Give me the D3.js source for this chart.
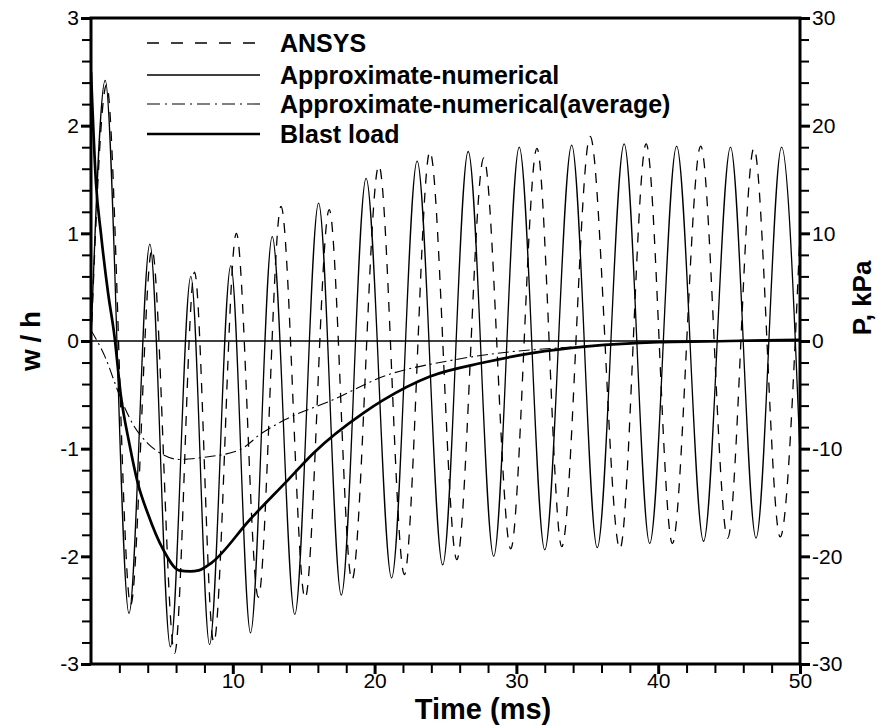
<!DOCTYPE html>
<html><head><meta charset="utf-8">
<script src="https://cdn.jsdelivr.net/npm/d3@7"></script>
<style>body{margin:0;background:#fff} svg{display:block;font-family:"Liberation Sans",Arial,sans-serif}</style>
</head><body><svg id="c" width="882" height="728"></svg>
<script>
// ---- data ----
// Approximate-numerical: times (ms) of successive extrema and w/h values
const numT = [0, 1.0, 2.68, 4.15, 5.6, 7.04, 8.36, 9.86, 11.25, 12.78, 14.37, 16.05, 17.65, 19.4, 21.2, 23.0, 24.8, 26.6, 28.4, 30.2, 32.0, 33.9, 35.7, 37.6, 39.4, 41.3, 43.2, 45.1, 46.9, 48.7, 50];
const numW = [0, 2.42, -2.53, 0.9, -2.84, 0.6, -2.82, 0.7, -2.71, 0.97, -2.54, 1.28, -2.36, 1.51, -2.2, 1.67, -2.08, 1.76, -2.0, 1.80, -1.94, 1.82, -1.92, 1.83, -1.88, 1.81, -1.86, 1.80, -1.83, 1.80, -1.05];
// ANSYS
const ansT = [0, 1.1, 2.8, 4.3, 5.9, 7.3, 8.66, 10.25, 11.8, 13.4, 15.1, 16.8, 18.4, 20.3, 22.1, 23.9, 25.8, 27.7, 29.6, 31.45, 33.2, 35.2, 37.3, 39.15, 41.0, 43.0, 44.9, 46.75, 48.6, 50];
const ansW = [0, 2.38, -2.45, 0.85, -2.9, 0.64, -2.8, 1.0, -2.38, 1.25, -2.39, 1.22, -2.22, 1.63, -2.17, 1.76, -2.03, 1.70, -1.93, 1.79, -1.91, 1.90, -1.93, 1.83, -1.88, 1.81, -1.83, 1.79, -1.82, 1.0];
// Approximate-numerical (average)
const avgT = [0, 1, 2, 2.9, 4, 5, 6.2, 8, 10.5, 12, 13.7, 17, 20.6, 25.4, 29.6, 32.4, 36, 40, 45, 50];
const avgW = [0.1, -0.15, -0.5, -0.76, -0.95, -1.05, -1.1, -1.08, -1.01, -0.86, -0.73, -0.55, -0.33, -0.18, -0.1, -0.07, -0.04, -0.01, 0, 0.01];
// Blast load (kPa)
const blastT = [0, 0.35, 0.7, 1.2, 1.65, 2.1, 2.7, 3.3, 4.0, 5.1, 6.2, 7.0, 7.6, 8.5, 11.2, 13.9, 15.7, 19.2, 20.6, 23.9, 27.7, 31.2, 35, 40, 45, 50];
const blastP = [25, 14.7, 10, 4.5, 0.5, -5, -9.5, -13.2, -16, -19.4, -21.3, -21.4, -21.3, -20.6, -16.6, -12.9, -10.4, -6.7, -5.5, -3.3, -2.0, -1.1, -0.5, -0.1, 0, 0.1];

const xTicks = [10, 20, 30, 40, 50];
const yTicks = [-3, -2, -1, 0, 1, 2, 3];
const yRTicks = [-30, -20, -10, 0, 10, 20, 30];
const legendNames = ["ANSYS", "Approximate-numerical", "Approximate-numerical(average)", "Blast load"];

// ---- drawing ----
const svg = d3.select("#c");
const L = 91, R = 800, T = 18, B = 664;
const x = d3.scaleLinear().domain([0, 50]).range([L, R]);
const y = d3.scaleLinear().domain([-3, 3]).range([B, T]);
const yR = d3.scaleLinear().domain([-30, 30]).range([B, T]);

const xMinor = d3.range(0, 50.001, 2).filter(v => v % 10 !== 0);
const yMinor = d3.range(-30, 30.001, 2).filter(v => v % 10 !== 0).map(v => v / 10);
const yRMinor = d3.range(-30, 30.001, 2).filter(v => v % 10 !== 0);
const fmt = d => String(d);

svg.append("defs").append("clipPath").attr("id", "clip")
  .append("rect").attr("x", L).attr("y", T).attr("width", R - L).attr("height", B - T);

const plot = svg.append("g").attr("clip-path", "url(#clip)");

plot.append("line").attr("x1", L).attr("x2", R).attr("y1", y(0)).attr("y2", y(0))
  .attr("stroke", "#000").attr("stroke-width", 1.3);

const lineW = d3.line().curve(d3.curveMonotoneX).x(d => x(d[0])).y(d => y(d[1]));
const lineP = d3.line().curve(d3.curveMonotoneX).x(d => x(d[0])).y(d => yR(d[1]));

const styles = [
  {w: 1.3, dash: "10,9", legDash: "12,12"},
  {w: 1.3, dash: null},
  {w: 1.1, dash: "11,4,2,4", legDash: "13,5,2,5"},
  {w: 2.7, dash: null}
];

function draw(path, st) {
  const p = plot.append("path").attr("d", path).attr("fill", "none")
    .attr("stroke", "#000").attr("stroke-width", st.w).attr("stroke-linejoin", "round");
  if (st.dash) p.attr("stroke-dasharray", st.dash);
}
draw(lineW(d3.zip(avgT, avgW)), styles[2]);
draw(lineP(d3.zip(blastT, blastP)), styles[3]);
draw(lineW(d3.zip(ansT, ansW)), styles[0]);
draw(lineW(d3.zip(numT, numW)), styles[1]);

// axes
function styleAxis(g, major) {
  g.selectAll(".tick line").attr("stroke", "#000").attr("stroke-width", major ? 3 : 2);
  g.selectAll(".tick text").attr("font-size", 21).attr("fill", "#000")
    .attr("font-family", "'Liberation Sans', Arial, sans-serif");
  g.select(".domain").remove();
}
const gxm = svg.append("g").attr("transform", `translate(0,${B})`)
  .call(d3.axisBottom(x).tickValues(xMinor).tickSize(9).tickFormat(""));
styleAxis(gxm, false);
const gx = svg.append("g").attr("transform", `translate(0,${B})`)
  .call(d3.axisBottom(x).tickValues(xTicks).tickSize(10).tickPadding(-1).tickFormat(fmt));
styleAxis(gx, true);

const gym = svg.append("g").attr("transform", `translate(${L},0)`)
  .call(d3.axisLeft(y).tickValues(yMinor).tickSize(9).tickFormat(""));
styleAxis(gym, false);
const gy = svg.append("g").attr("transform", `translate(${L},0)`)
  .call(d3.axisLeft(y).tickValues(yTicks).tickSize(10).tickPadding(2).tickFormat(fmt));
styleAxis(gy, true);

const grm = svg.append("g").attr("transform", `translate(${R},0)`)
  .call(d3.axisRight(yR).tickValues(yRMinor).tickSize(9).tickFormat(""));
styleAxis(grm, false);
const gr = svg.append("g").attr("transform", `translate(${R},0)`)
  .call(d3.axisRight(yR).tickValues(yRTicks).tickSize(10).tickPadding(2).tickFormat(fmt));
styleAxis(gr, true);

// frame
svg.append("rect").attr("x", L).attr("y", T).attr("width", R - L).attr("height", B - T)
  .attr("fill", "none").attr("stroke", "#000").attr("stroke-width", 3);

// legend
const legY = [43, 75, 104, 134];
legendNames.forEach((name, i) => {
  const st = styles[i];
  const l = svg.append("line").attr("x1", 147).attr("x2", 260).attr("y1", legY[i]).attr("y2", legY[i])
    .attr("stroke", "#000").attr("stroke-width", st.w);
  if (st.legDash) l.attr("stroke-dasharray", st.legDash);
  svg.append("text").attr("x", 280).attr("y", legY[i]).attr("dy", "0.36em")
    .attr("font-size", 25).attr("font-weight", "bold").text(name);
});

// axis titles
svg.append("text").attr("x", 483).attr("y", 719).attr("text-anchor", "middle")
  .attr("font-size", 29).attr("font-weight", "bold").text("Time (ms)");
svg.append("text").attr("transform", `translate(40,${y(0)}) rotate(-90)`).attr("text-anchor", "middle")
  .attr("font-size", 28).attr("font-weight", "bold").attr("word-spacing", -1).text("w / h");
svg.append("text").attr("transform", `translate(871,${y(0.4)}) rotate(-90)`).attr("text-anchor", "middle")
  .attr("font-size", 26).attr("font-weight", "bold").text("P, kPa");
</script></body></html>
